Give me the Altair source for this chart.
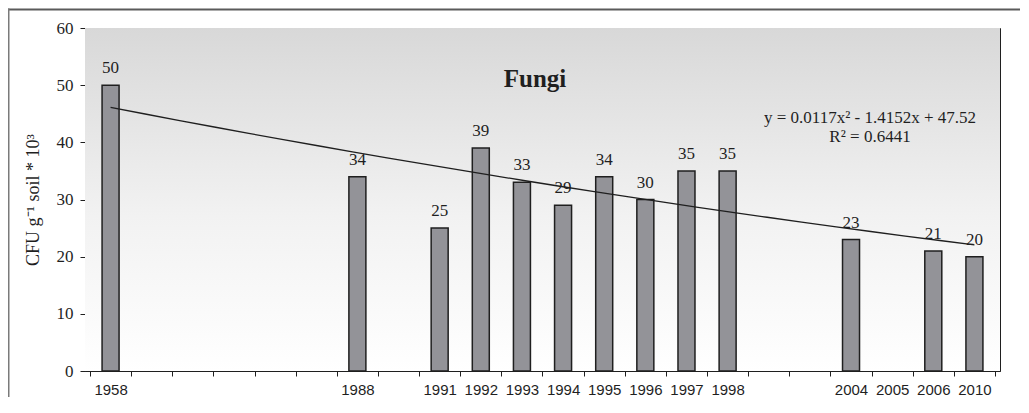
import altair as alt
import pandas as pd

# ---- data ----
categories = ["1958", "", "", "", "", "", "1988", "", "1991", "1992", "1993", "1994",
              "1995", "1996", "1997", "1998", "", "", "2004", "2005", "2006", "2010"]
values = [50, None, None, None, None, None, 34, None, 25, 39, 33, 29,
          34, 30, 35, 35, None, None, 23, None, 21, 20]
y_ticks = [0, 10, 20, 30, 40, 50, 60]
chart_title = "Fungi"
equation_text = "y = 0.0117x² - 1.4152x + 47.52"
r2_text = "R² = 0.6441"
y_title = "CFU g⁻¹ soil * 10³"

idx = list(range(1, len(categories) + 1))
df = pd.DataFrame({"idx": idx, "label": categories, "value": values})
bars_df = df.dropna(subset=["value"]).copy()
boundaries = [i + 0.5 for i in range(0, len(categories) + 1)]

SERIF = "Liberation Serif, Times New Roman, serif"
SANS = "Liberation Sans, Arial, sans-serif"
INK = "#1f1f1f"

W, H = 915, 343
PAD = {"left": 77, "top": 20, "right": 20, "bottom": 26}

xscale = alt.Scale(domain=[0.5, len(categories) + 0.5], nice=False, zero=False)
yscale = alt.Scale(domain=[0, 60], nice=False)

label_expr = "[" + ",".join("'" + c + "'" for c in categories) + "][datum.value - 1]"

tick_axis = alt.Axis(values=boundaries, labels=False, ticks=True, tickSize=5,
                     tickColor=INK, domainColor=INK, domainWidth=1, tickWidth=1,
                     grid=False, title=None, orient="bottom")
label_axis = alt.Axis(values=idx, labelExpr=label_expr, ticks=False, tickSize=0,
                      domain=False, labelPadding=11, labelFont=SANS, labelFontSize=15,
                      labelColor=INK, grid=False, title=None, orient="bottom",
                      labelOverlap=False)
y_axis = alt.Axis(values=y_ticks, tickSize=5, tickColor=INK, domainColor=INK,
                  labelFont=SERIF, labelFontSize=17, labelColor=INK, labelPadding=7,
                  grid=False, title=y_title, titleFont=SERIF, titleFontSize=18,
                  titleFontWeight="normal", titleColor=INK, titlePadding=14)

gradient = alt.LinearGradient(
    gradient="linear",
    stops=[alt.GradientStop(color="#d8d8d8", offset=0),
           alt.GradientStop(color="#f2f2f2", offset=0.55),
           alt.GradientStop(color="#ffffff", offset=1)],
    x1=0, x2=0, y1=0, y2=1)

one = pd.DataFrame({"a": [0]})

background = alt.Chart(one).mark_rect(fill=gradient, strokeWidth=0).encode(
    x=alt.value(0), x2=alt.value(W), y=alt.value(0), y2=alt.value(H))

frame_top = alt.Chart(one).mark_rule(color="#5a5a5a", strokeWidth=2).encode(
    x=alt.value(-PAD["left"]), x2=alt.value(W + PAD["right"]), y=alt.value(-18.5))
frame_left = alt.Chart(one).mark_rule(color="#7a7a7a", strokeWidth=2).encode(
    x=alt.value(-76.5), y=alt.value(-19.5), y2=alt.value(H + PAD["bottom"]))

bars = alt.Chart(bars_df).mark_bar(size=17, color="#939398", stroke=INK,
                                   strokeWidth=1.5).encode(
    x=alt.X("idx:Q", scale=xscale, axis=tick_axis),
    y=alt.Y("value:Q", scale=yscale, axis=y_axis))

labels_axis_layer = alt.Chart(df).mark_point(opacity=0).encode(
    x=alt.X("idx:Q", scale=xscale, axis=label_axis),
    y=alt.value(H))

value_labels = alt.Chart(bars_df).mark_text(font=SERIF, fontSize=17, color=INK,
                                            baseline="alphabetic", dy=-12).encode(
    x=alt.X("idx:Q", scale=xscale, axis=None),
    y=alt.Y("value:Q", scale=yscale),
    text=alt.Text("value:Q", format="d"))

trend = alt.Chart(bars_df).transform_regression(
    "idx", "value", method="poly", order=2).mark_line(color=INK, strokeWidth=1.3).encode(
    x=alt.X("idx:Q", scale=xscale, axis=None),
    y=alt.Y("value:Q", scale=yscale))

title_mark = alt.Chart(pd.DataFrame({"t": [chart_title]})).mark_text(
    font=SERIF, fontSize=25, fontWeight="bold", color=INK, baseline="alphabetic",
    align="center").encode(x=alt.value(450), y=alt.value(59), text="t:N")

eq_mark = alt.Chart(pd.DataFrame({"t": [equation_text]})).mark_text(
    font=SERIF, fontSize=17, color=INK, baseline="alphabetic", align="center").encode(
    x=alt.value(785), y=alt.value(95), text="t:N")

r2_mark = alt.Chart(pd.DataFrame({"t": [r2_text]})).mark_text(
    font=SERIF, fontSize=17, color=INK, baseline="alphabetic", align="center").encode(
    x=alt.value(785), y=alt.value(114), text="t:N")

chart = alt.layer(
    background, frame_top, frame_left, bars, labels_axis_layer, trend, value_labels,
    title_mark, eq_mark, r2_mark
).resolve_axis(x="independent").properties(
    width=W, height=H,
    padding=PAD,
    autosize=alt.AutoSizeParams(type="none"),
    background="white",
).configure_view(stroke=INK, strokeWidth=1)

chart.save("out.html", embed_options={"renderer": "svg", "actions": False})
